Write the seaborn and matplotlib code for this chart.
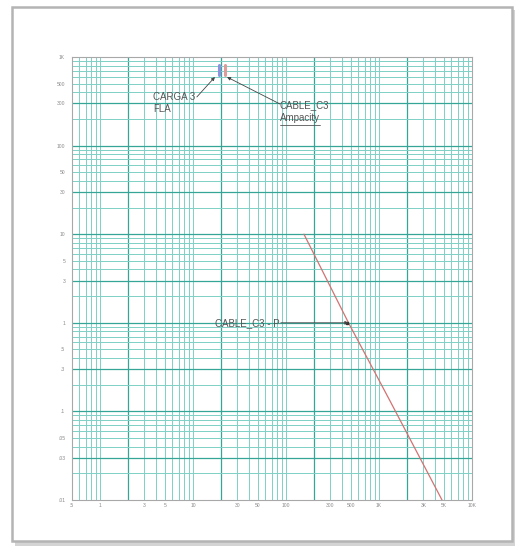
import numpy as np
import pandas as pd
import matplotlib
matplotlib.use("Agg")
import matplotlib.pyplot as plt
import seaborn as sns
from matplotlib.ticker import FixedLocator, NullLocator
from matplotlib.patches import Rectangle
from matplotlib.lines import Line2D

# datos (corriente en A, tiempo en s)
cable_amps = [156, 470, 1310, 4760]
cable_secs = [10, 1.0, 0.132, 0.01]

fla_amps = [19, 19]
fla_secs = [625, 812]
ampacity_amps = [22, 22]
ampacity_secs = [625, 812]

xtick_vals = [0.5, 1, 3, 5, 10, 30, 50, 100, 300, 500, 1000, 3000, 5000, 10000]
xtick_lbls = [".5", "1", "3", "5", "10", "30", "50", "100", "300", "500", "1K", "3K", "5K", "10K"]
ytick_vals = [1000, 500, 300, 100, 50, 30, 10, 5, 3, 1, 0.5, 0.3, 0.1, 0.05, 0.03, 0.01]
ytick_lbls = ["1K", "500", "300", "100", "50", "30", "10", "5", "3", "1", ".5", ".3", ".1", ".05", ".03", ".01"]

sns.set_style("white")
plt.rcParams['font.family'] = ['Liberation Sans', 'DejaVu Sans']
plt.rcParams['axes.grid'] = False

W, H = 517, 552
fig = plt.figure(figsize=(W / 100, H / 100), dpi=100)
fig.patch.set_facecolor("white")

# marco con sombra
fig.patches.append(Rectangle((15 / W, 1 - 546 / H), 500 / W, 536 / H, transform=fig.transFigure,
                             facecolor="#d4d4d4", edgecolor="none", zorder=0))
fig.patches.append(Rectangle((12 / W, 1 - 541 / H), 500 / W, 534 / H, transform=fig.transFigure,
                             facecolor="white", edgecolor="#b4b4b4", lw=1.8, zorder=1))

ax = fig.add_axes([72 / W, 1 - 500 / H, 400 / W, 443 / H])
ax.set_zorder(2)
ax.set_xscale("log")
ax.set_yscale("log")
ax.set_xlim(0.5, 10000)
ax.set_ylim(0.01, 1000)

# cuadricula tipo papel log-log (1..9 por decada)
weak_c, strong_c = "#7fd0c6", "#35a597"
grid_x = [m * 10.0 ** e for e in range(-1, 4) for m in range(1, 10)]
grid_y = [m * 10.0 ** e for e in range(-2, 3) for m in range(1, 10)]
for g in grid_x:
    if 0.5 < g < 10000:
        strong = round(g / 10 ** np.floor(np.log10(g) + 1e-9)) == 2
        ax.axvline(g, color=strong_c if strong else weak_c, lw=0.9 if strong else 0.7, zorder=0.5)
for g in grid_y:
    if 0.01 < g < 1000:
        m = round(g / 10 ** np.floor(np.log10(g) + 1e-9))
        strong = m in (1, 3)
        ax.axhline(g, color=strong_c if strong else weak_c, lw=0.9 if strong else 0.7, zorder=0.5)

ax.xaxis.set_major_locator(FixedLocator(xtick_vals))
ax.yaxis.set_major_locator(FixedLocator(ytick_vals))
ax.xaxis.set_minor_locator(NullLocator())
ax.yaxis.set_minor_locator(NullLocator())
ax.set_xticklabels(xtick_lbls)
ax.set_yticklabels(ytick_lbls)
ax.tick_params(axis="both", which="both", length=0, width=0, labelsize=3.6, labelcolor="#8a8a8a")
ax.tick_params(axis="y", pad=5)
ax.tick_params(axis="x", pad=2)
for s in ax.spines.values():
    s.set_color("#a8a8a8")
    s.set_linewidth(0.8)

# curvas
sns.lineplot(x=cable_amps, y=cable_secs, ax=ax, color="#d27272", lw=0.9, sort=False, estimator=None)
sns.lineplot(x=fla_amps, y=fla_secs, ax=ax, color="#9090e0", lw=2.2, sort=False, estimator=None)
sns.lineplot(x=ampacity_amps, y=ampacity_secs, ax=ax, color="#e09a9a", lw=2.2, sort=False, estimator=None)
ax.grid(False, which="both")

tc = "#555555"
fs = 7
arw = dict(arrowstyle="-|>", color="#444444", lw=0.6, mutation_scale=5, shrinkA=0, shrinkB=0)

ax.annotate("", xy=(17.2, 594), xytext=(11.0, 354), arrowprops=arw)
ax.text(3.7, 400, "CARGA 3\nFLA", fontsize=fs, color=tc, va="top", ha="left", linespacing=1.2)

ax.annotate("", xy=(23.2, 594), xytext=(86, 295), arrowprops=arw)
ax.text(86, 325, "CABLE_C3", fontsize=fs, color=tc, va="top", ha="left")
ax.text(86, 235, "Ampacity", fontsize=fs, color=tc, va="top", ha="left")
fig.lines.append(Line2D([280 / W, 320 / W], [1 - 125 / H, 1 - 125 / H], transform=fig.transFigure,
                        color=tc, lw=0.6))

tip_i = cable_amps[1]
tip_t = cable_secs[1]
ax.annotate("", xy=(tip_i, tip_t), xytext=(88, tip_t), arrowprops=arw)
ax.plot([tip_i * 0.97], [tip_t], marker="s", ms=2, color="#333333")
ax.text(17.2, tip_t, "CABLE_C3 - P", fontsize=fs, color=tc, va="center", ha="left")

fig.savefig("out.png", dpi=100)
